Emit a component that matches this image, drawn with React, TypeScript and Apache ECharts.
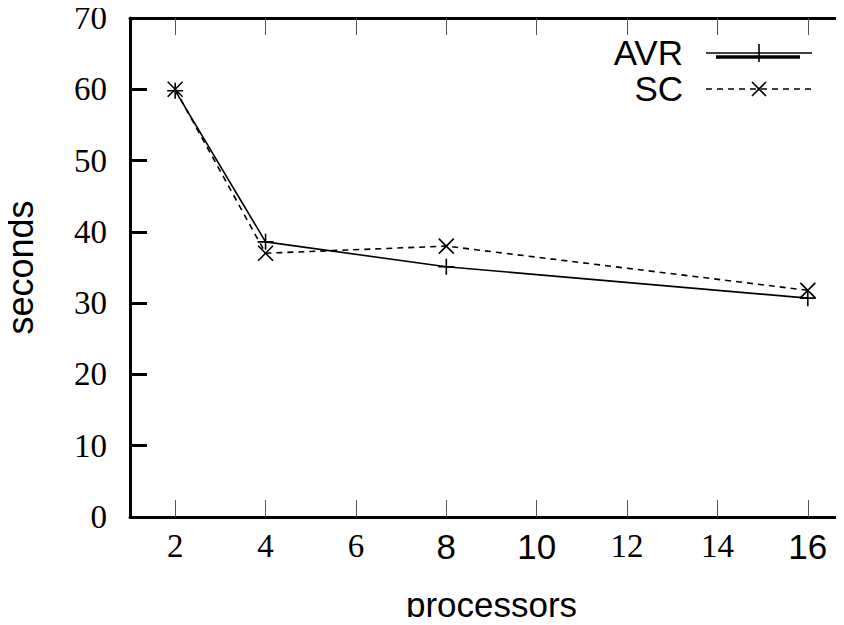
import React, { useEffect, useRef } from "react";
import * as echarts from "echarts";

const processors = [2, 4, 8, 16];
const avrSeconds = [59.8, 38.6, 35.1, 30.7];
const scSeconds = [60.0, 37.0, 38.0, 31.8];
const xTickValues = [2, 4, 6, 8, 10, 12, 14, 16];
const sansTickLabels = [8, 10, 16];
const rightTickValues = [30, 40, 50, 60];

const SERIF = "'Liberation Serif', 'Times New Roman', serif";
const SANS = "'Liberation Sans', Arial, sans-serif";

const plusPath = "path://M8,0L8,16M0,8L16,8";
const crossPath = "path://M0,0L16,16M16,0L0,16";

export default function App() {
  const ref = useRef<HTMLDivElement>(null);
  useEffect(() => {
    if (!ref.current) return;
    const chart = echarts.init(ref.current, null, { renderer: "svg" });
    const avrData = processors.map((p, i) => [p, avrSeconds[i]]);
    const scData = processors.map((p, i) => [p, scSeconds[i]]);
    chart.setOption({
      animation: false,
      backgroundColor: "#fff",
      grid: {
        left: 130,
        top: 18,
        width: 723,
        height: 499,
        containLabel: false,
        outerBoundsMode: "none",
      },
      xAxis: [
        {
          type: "value",
          min: 1,
          max: 17,
          position: "bottom",
          name: "processors",
          nameLocation: "middle",
          nameGap: 70,
          nameTextStyle: { fontFamily: SANS, fontSize: 35, color: "#000" },
          axisLine: { show: true, onZero: false, lineStyle: { color: "#000", width: 3 } },
          axisTick: {
            show: true,
            inside: true,
            length: 17,
            customValues: xTickValues,
            lineStyle: { color: "#555", width: 1 },
          },
          splitLine: { show: false },
          axisLabel: {
            margin: 12,
            customValues: xTickValues,
            formatter: (v: number) =>
              sansTickLabels.indexOf(v) >= 0 ? "{s|" + v + "}" : "{r|" + v + "}",
            rich: {
              s: { fontFamily: SANS, fontSize: 35, color: "#000" },
              r: { fontFamily: SERIF, fontSize: 33, color: "#000" },
            },
          },
        },
        {
          type: "value",
          min: 1,
          max: 17,
          position: "top",
          axisLine: { show: true, onZero: false, lineStyle: { color: "#000", width: 3 } },
          axisTick: {
            show: true,
            inside: true,
            length: 17,
            customValues: xTickValues,
            lineStyle: { color: "#555", width: 1 },
          },
          axisLabel: { show: false },
          splitLine: { show: false },
        },
      ],
      yAxis: [
        {
          type: "value",
          min: 0,
          max: 70,
          interval: 10,
          position: "left",
          name: "seconds",
          nameLocation: "middle",
          nameGap: 92,
          nameTextStyle: { fontFamily: SANS, fontSize: 36, color: "#000" },
          axisLine: { show: true, onZero: false, lineStyle: { color: "#000", width: 3 } },
          axisTick: { show: true, inside: true, length: 17, lineStyle: { color: "#000", width: 3 } },
          splitLine: { show: false },
          axisLabel: { margin: 23, fontFamily: SERIF, fontSize: 33, color: "#000" },
        },
        {
          type: "value",
          min: 0,
          max: 70,
          interval: 10,
          position: "right",
          axisLine: { show: false },
          axisTick: {
            show: true,
            inside: true,
            length: 16,
            customValues: rightTickValues,
            lineStyle: { color: "#000", width: 3 },
          },
          axisLabel: { show: false },
          splitLine: { show: false },
        },
      ],
      series: [
        {
          name: "AVR",
          type: "line",
          data: avrData,
          symbol: plusPath,
          symbolSize: 16,
          itemStyle: { color: "#000", borderColor: "#000", borderWidth: 1.6 },
          lineStyle: { color: "#000", width: 1.6, type: "solid" },
          z: 3,
        },
        {
          name: "SC",
          type: "line",
          data: scData,
          symbol: crossPath,
          symbolSize: 15,
          itemStyle: { color: "#000", borderColor: "#000", borderWidth: 1.6 },
          lineStyle: { color: "#000", width: 1.6, type: [6, 5] },
          z: 2,
        },
      ],
      graphic: [
        {
          type: "text",
          right: 161,
          top: 35,
          style: { text: "AVR", fontFamily: SANS, fontSize: 35, fill: "#000", textAlign: "right" },
        },
        {
          type: "text",
          right: 161,
          top: 71,
          style: { text: "SC", fontFamily: SANS, fontSize: 35, fill: "#000", textAlign: "right" },
        },
        { type: "line", shape: { x1: 706, y1: 53, x2: 812, y2: 53 }, style: { stroke: "#000", lineWidth: 1.5 } },
        { type: "line", shape: { x1: 716, y1: 57, x2: 800, y2: 57 }, style: { stroke: "#000", lineWidth: 3.5 } },
        { type: "line", shape: { x1: 759, y1: 44, x2: 759, y2: 62 }, style: { stroke: "#000", lineWidth: 1.6 } },
        {
          type: "line",
          shape: { x1: 706, y1: 89, x2: 812, y2: 89 },
          style: { stroke: "#000", lineWidth: 1.5, lineDash: [6, 5] },
        },
        { type: "line", shape: { x1: 752, y1: 82, x2: 766, y2: 96 }, style: { stroke: "#000", lineWidth: 1.6 } },
        { type: "line", shape: { x1: 766, y1: 82, x2: 752, y2: 96 }, style: { stroke: "#000", lineWidth: 1.6 } },
      ],
    });
    return () => chart.dispose();
  }, []);
  return <div ref={ref} style={{ width: 844, height: 625, margin: -8 }} />;
}
